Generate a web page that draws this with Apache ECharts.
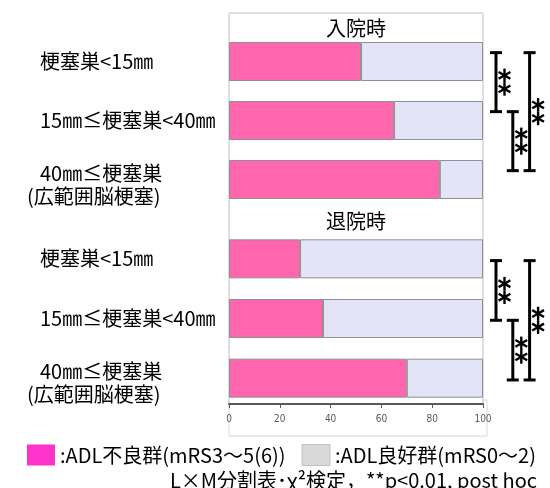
<!DOCTYPE html>
<html>
<head>
<meta charset="utf-8">
<script src="https://cdn.jsdelivr.net/npm/echarts@6/dist/echarts.min.js"></script>
<style>
  html, body { margin: 0; padding: 0; background: #fff; }
  #chart { width: 550px; height: 488px; }
</style>
</head>
<body>
<div id="chart"></div>
<script>
// data
const phases = ['入院時', '退院時'];
const categories = ['梗塞巣<15㎜', '15㎜≤梗塞巣<40㎜', '40㎜≤梗塞巣\n(広範囲脳梗塞)'];
const poorAdmission = [52, 65, 83];
const goodAdmission = [48, 35, 17];
const poorDischarge = [28, 37, 70];
const goodDischarge = [72, 63, 30];
const xTickLabels = ['0', '20', '40', '60', '80', '100'];
const sigPairs = [[0, 1], [1, 2], [0, 2]];
const sigMarks = ['**', '**', '**'];
const poorName = 'ADL不良群(mRS3～5(6))';
const goodName = 'ADL良好群(mRS0～2)';

const FONT = '"Noto Sans CJK JP", "Noto Sans", sans-serif';
const PINK = '#ff66ad';
const LAVENDER = '#e3e4f7';

const chart = echarts.init(document.getElementById('chart'));

// two-line label gets an empty spacer line on top so it sits a bit lower
function labelFmt(v) {
  const lines = v.split('\n');
  if (lines.length === 1) return '{p|}{t|' + v + '}';
  return '{s|}\n{p|}{t|' + lines[0] + '}\n{t|' + lines[1] + '}';
}

function makeYAxis(gridIndex) {
  return {
    type: 'category',
    gridIndex: gridIndex,
    data: categories,
    inverse: true,
    axisLine: { show: false },
    axisTick: { show: false },
    splitLine: { show: false },
    axisLabel: {
      formatter: labelFmt,
      align: 'left',
      margin: 202,
      color: '#000',
      fontFamily: FONT,
      fontSize: 20,
      lineHeight: 23,
      rich: {
        s: { height: 10, lineHeight: 10, fontSize: 8 },
        p: { width: 13 },
        t: { fontFamily: FONT, fontSize: 20, color: '#000', lineHeight: 23 }
      }
    }
  };
}

function makeXAxis(gridIndex, show) {
  return {
    type: 'value',
    gridIndex: gridIndex,
    min: 0,
    max: 100,
    interval: 20,
    show: show,
    offset: -4,
    splitLine: { show: false },
    axisLine: { show: true, lineStyle: { color: '#595959', width: 2 } },
    axisTick: { show: true, length: 4, lineStyle: { color: '#595959' } },
    axisLabel: {
      margin: 10,
      color: '#595959',
      fontFamily: '"Liberation Sans Narrow", "DejaVu Sans Condensed", sans-serif',
      fontSize: 10,
      formatter: v => xTickLabels[Math.round(v / 20)]
    }
  };
}

function barSeries(name, data, color, gi) {
  return {
    name: name,
    type: 'bar',
    stack: 'g' + gi,
    xAxisIndex: gi,
    yAxisIndex: gi,
    barWidth: 39,
    data: data,
    itemStyle: { color: color, borderColor: '#8f8f8f', borderWidth: 1 },
    silent: true
  };
}

function drawStar(cx, cy, r) {
  const out = [];
  for (let k = 0; k < 3; k++) {
    const a = Math.PI / 2 + k * Math.PI / 3;
    const dx = Math.cos(a) * r, dy = Math.sin(a) * r;
    out.push({
      type: 'line',
      shape: { x1: cx - dx, y1: cy - dy, x2: cx + dx, y2: cy + dy },
      style: { stroke: '#000', lineWidth: 2.4 }
    });
  }
  return out;
}

function sigSeries(gi, shift) {
  return {
    type: 'custom',
    xAxisIndex: gi,
    yAxisIndex: gi,
    clip: false,
    silent: true,
    data: sigPairs.map((p, i) => [p[0], p[1], i]),
    renderItem: function (params, api) {
      const from = api.value(0), to = api.value(1), lane = api.value(2);
      const band = api.size([0, 1])[1];
      const right = api.coord([100, from])[0];
      const x = right + 13 + lane * 16.8;
      const y1 = api.coord([0, from])[1] + shift * band;
      const y2 = api.coord([0, to])[1] + shift * band;
      const mid = (y1 + y2) / 2;
      const st = { stroke: '#000', lineWidth: 3 };
      let children = [
        { type: 'line', shape: { x1: x, y1: y1, x2: x, y2: y2 }, style: st },
        { type: 'line', shape: { x1: x - 6, y1: y1, x2: x + 6, y2: y1 }, style: st },
        { type: 'line', shape: { x1: x - 6, y1: y2, x2: x + 6, y2: y2 }, style: st }
      ];
      const n = sigMarks[lane].length;
      for (let k = 0; k < n; k++) {
        const cy = mid + (k - (n - 1) / 2) * 13.5;
        children = children.concat(drawStar(x + 8.5, cy, 6.8));
      }
      return { type: 'group', children: children };
    }
  };
}

const option = {
  backgroundColor: '#fff',
  animation: false,
  grid: [
    { left: 229, right: 67, top: 32, height: 177, outerBoundsMode: 'none', containLabel: false },
    { left: 229, right: 67, top: 229, height: 179, outerBoundsMode: 'none', containLabel: false }
  ],
  xAxis: [makeXAxis(0, false), makeXAxis(1, true)],
  yAxis: [makeYAxis(0), makeYAxis(1)],
  legend: {
    left: 22,
    top: 439,
    icon: 'rect',
    itemWidth: 28,
    itemHeight: 21,
    itemGap: 16,
    selectedMode: false,
    formatter: ':{name}',
    textStyle: { fontFamily: FONT, fontSize: 20, color: '#000' },
    data: [
      { name: poorName, itemStyle: { color: '#ff33cc', borderWidth: 0 } },
      { name: goodName, itemStyle: { color: '#d9d9d9', borderColor: '#bfbfbf', borderWidth: 1 } }
    ]
  },
  graphic: [
    {
      type: 'rect', z: -1, silent: true,
      shape: { x: 229, y: 13, width: 254, height: 391 },
      style: { fill: '#fff', stroke: '#bfbfbf', lineWidth: 1 }
    },
    {
      type: 'rect', z: -2, silent: true,
      shape: { x: 229, y: 400, width: 258, height: 36 },
      style: { fill: '#fff', stroke: '#d9d9d9', lineWidth: 1 }
    },
    {
      type: 'text', x: 356, y: 28, silent: true,
      style: { text: phases[0], font: '20px ' + FONT, fill: '#000', align: 'center', verticalAlign: 'middle' }
    },
    {
      type: 'text', x: 356, y: 221, silent: true,
      style: { text: phases[1], font: '20px ' + FONT, fill: '#000', align: 'center', verticalAlign: 'middle' }
    },
    {
      type: 'text', x: 537, y: 480, silent: true,
      style: {
        text: 'L×M分割表･χ²検定，**p<0.01, post hoc',
        font: '20px ' + FONT, fill: '#000', align: 'right', verticalAlign: 'middle'
      }
    }
  ],
  series: [
    barSeries(poorName, poorAdmission, PINK, 0),
    barSeries(goodName, goodAdmission, LAVENDER, 0),
    barSeries(poorName, poorDischarge, PINK, 1),
    barSeries(goodName, goodDischarge, LAVENDER, 1),
    sigSeries(0, -0.15),
    sigSeries(1, 0.03)
  ]
};

chart.setOption(option);
</script>
</body>
</html>
